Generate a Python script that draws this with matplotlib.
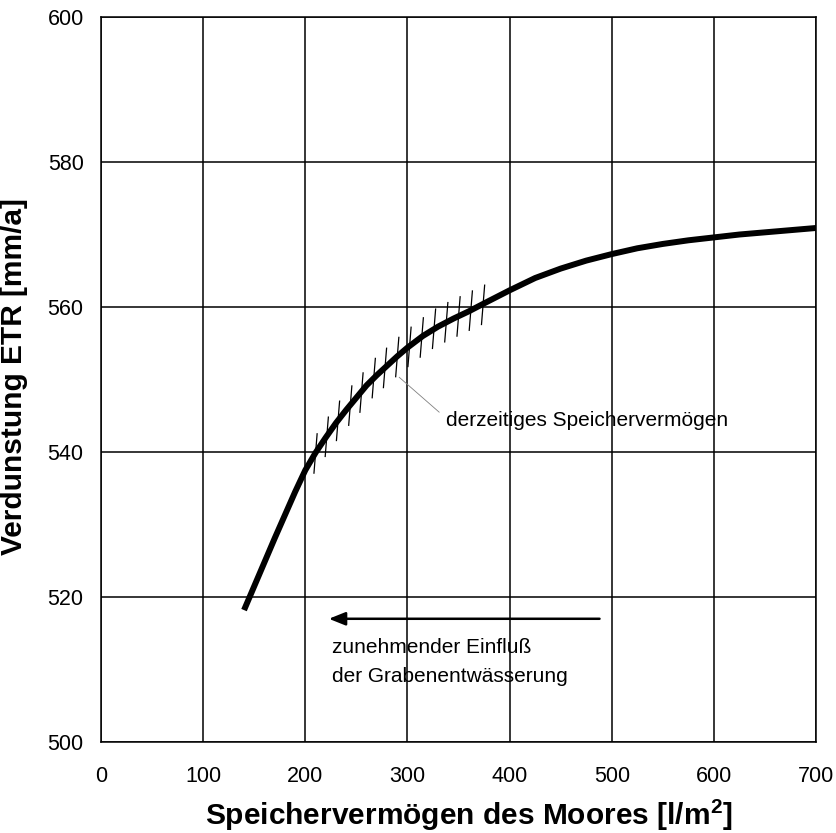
import matplotlib
matplotlib.use('Agg')
import matplotlib.pyplot as plt

# Kurve: Speichervermögen [l/m2] -> Verdunstung ETR [mm/a]
speicher = [140, 150, 160, 170, 180, 190, 200, 210, 220, 230, 240, 250,
            260, 270, 280, 290, 300, 315, 330, 345, 360, 375, 400, 425,
            450, 475, 500, 525, 550, 575, 600, 625, 650, 675, 700]
etr = [518.2, 521.5, 524.8, 528.1, 531.3, 534.5, 537.5, 539.9, 542.0,
       544.0, 545.8, 547.5, 549.2, 550.6, 551.9, 553.2, 554.4, 556.0,
       557.3, 558.4, 559.4, 560.5, 562.3, 564.0, 565.3, 566.4, 567.3,
       568.1, 568.7, 569.2, 569.6, 570.0, 570.3, 570.6, 570.9]

# Schraffur (derzeitiges Speichervermögen)
hatch_x = [210, 221, 232, 244, 255, 267, 278, 290, 302, 314, 326, 338,
           350, 362, 374]
hatch_y = [539.9, 542.2, 544.4, 546.5, 548.3, 550.3, 551.7, 553.2, 554.6,
           555.9, 557.1, 558.0, 558.8, 559.6, 560.4]

xticks = [0, 100, 200, 300, 400, 500, 600, 700]
yticks = [500, 520, 540, 560, 580, 600]

plt.rcParams['font.family'] = ['Liberation Sans', 'DejaVu Sans']
plt.rcParams['mathtext.fontset'] = 'custom'
plt.rcParams['mathtext.rm'] = 'Liberation Sans'
plt.rcParams['mathtext.bf'] = 'Liberation Sans:bold'

fig = plt.figure(figsize=(8.37, 8.33), dpi=100)
ax = fig.add_axes([0.1207, 0.1092, 0.8543, 0.8704])

ax.set_xlim(0, 700)
ax.set_ylim(500, 600)
ax.set_xticks(xticks)
ax.set_yticks(yticks)
ax.grid(True, color='black', linewidth=1.1)
ax.set_axisbelow(True)
for sp in ax.spines.values():
    sp.set_linewidth(1.1)
ax.tick_params(length=0, labelsize=15.5)
ax.tick_params(axis='x', pad=17)
ax.tick_params(axis='y', pad=12.5)

# Schraffurstriche
dy_lo, dy_hi = 2.9, 2.7
for hx, hy in zip(hatch_x, hatch_y):
    ax.plot([hx - 1.6, hx + 1.6], [hy - dy_lo, hy + dy_hi], color='black',
            linewidth=0.9, solid_capstyle='butt')

ax.plot(speicher, etr, color='black', linewidth=4.3, solid_capstyle='butt',
        solid_joinstyle='round')

# Beschriftung derzeitiges Speichervermögen
ax.plot([292, 331], [550.3, 545.5], color='gray', linewidth=0.6)
ax.text(338, 544.4, 'derzeitiges Speichervermögen', fontsize=15,
        va='center', ha='left')

# Pfeil
ax.annotate('', xy=(223, 517), xytext=(488, 517),
            arrowprops=dict(arrowstyle='-|>,head_length=1.0,head_width=0.4',
                            color='black', linewidth=1.8,
                            shrinkA=0, shrinkB=0))
ax.text(226, 513.0, 'zunehmender Einfluß', fontsize=15, va='center',
        ha='left')
ax.text(226, 509.1, 'der Grabenentwässerung', fontsize=15, va='center',
        ha='left')

ax.set_xlabel('Speichervermögen des Moores [l/m$^{\\mathbf{2}}$]',
              fontsize=21.5, fontweight='bold')
ax.xaxis.set_label_coords(0.514, -0.076)
ax.set_ylabel('Verdunstung ETR [mm/a]', fontsize=21.5, fontweight='bold')
ax.yaxis.set_label_coords(-0.102, 0.504)

fig.savefig('out.png', dpi=100)
